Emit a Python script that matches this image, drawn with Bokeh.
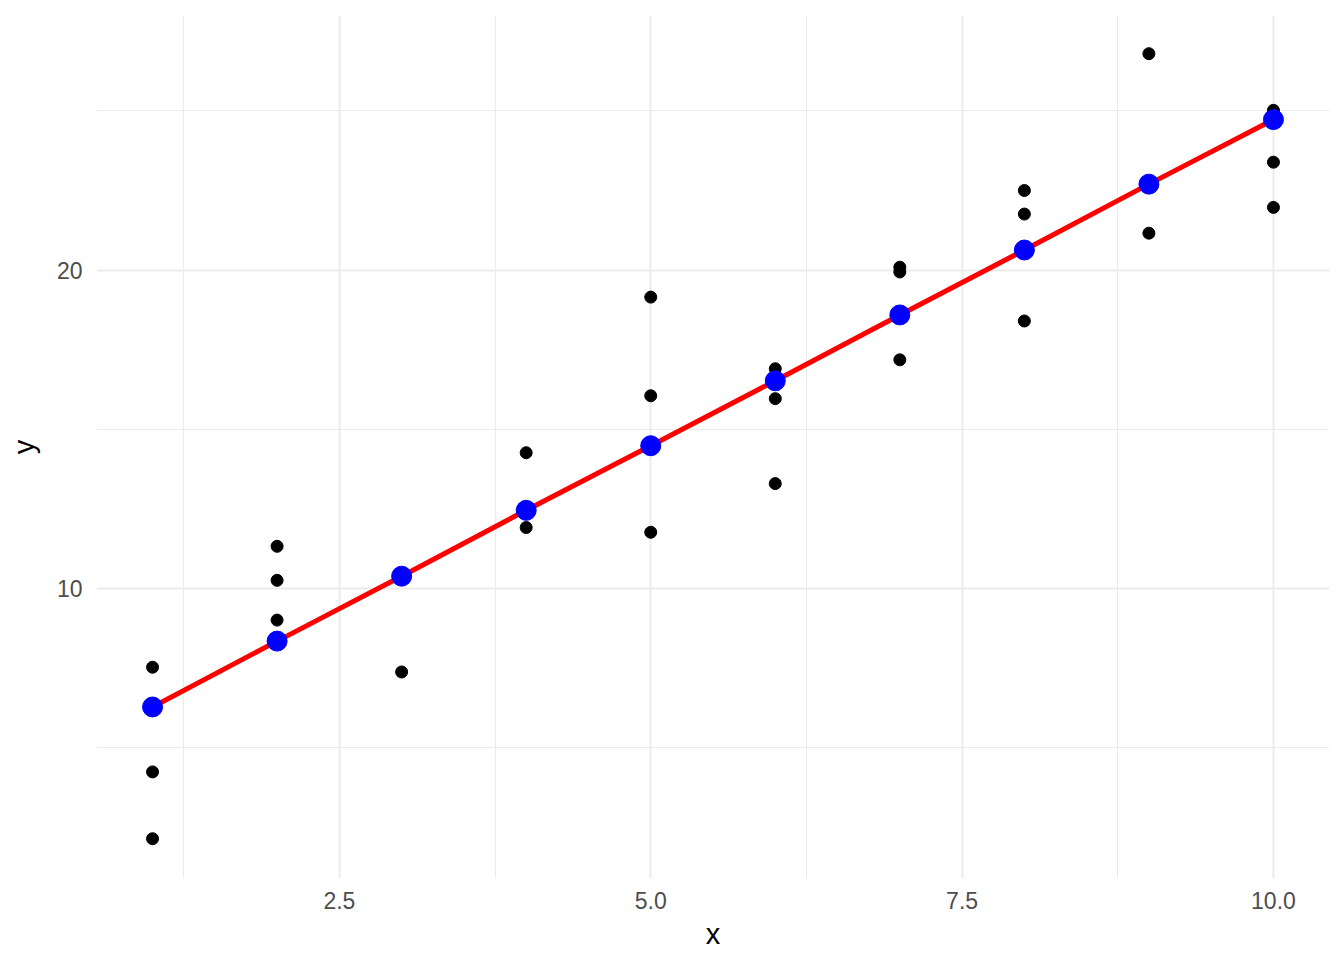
from bokeh.plotting import figure
from bokeh.models import FixedTicker, Range1d, PrintfTickFormatter
from bokeh.embed import file_html
from bokeh.resources import INLINE

# Observed points
x_obs = [1, 1, 1, 2, 2, 2, 3, 4, 4, 5, 5, 5, 6, 6, 6, 7, 7, 7, 8, 8, 8, 9, 9, 10, 10, 10, 10]
y_obs = [7.52, 4.23, 2.13, 11.32, 10.25, 9.0, 7.37, 14.26, 11.91, 19.15, 16.05, 11.76,
         16.9, 15.96, 13.29, 20.09, 19.94, 17.18, 22.5, 21.76, 18.4, 26.8, 21.16,
         25.02, 24.95, 23.39, 21.97]

# Fitted values (blue points / red line)
x_fit = [1, 2, 3, 4, 5, 6, 7, 8, 9, 10]
y_fit = [6.27, 8.34, 10.38, 12.45, 14.48, 16.52, 18.59, 20.63, 22.70, 24.73]

x_ticks = [2.5, 5.0, 7.5, 10.0]
x_minor = [1.25, 3.75, 6.25, 8.75]
y_ticks = [10, 20]
y_minor = [5, 15, 25]

p = figure(width=1336, height=952, output_backend="svg", toolbar_location=None,
           x_range=Range1d(0.55, 10.45), y_range=Range1d(0.88, 28.0),
           min_border_left=96, min_border_right=7, min_border_top=15, min_border_bottom=72)
p.outline_line_color = None
p.background_fill_color = "white"
p.border_fill_color = "white"

p.xaxis.ticker = FixedTicker(ticks=x_ticks, minor_ticks=x_minor)
p.yaxis.ticker = FixedTicker(ticks=y_ticks, minor_ticks=y_minor)
p.xaxis.formatter = PrintfTickFormatter(format="%.1f")
p.yaxis.formatter = PrintfTickFormatter(format="%d")

for ax in (p.xaxis, p.yaxis):
    ax.axis_line_color = None
    ax.major_tick_line_color = None
    ax.minor_tick_line_color = None
    ax.major_tick_out = 0
    ax.minor_tick_out = 0
    ax.major_label_text_font = "Liberation Sans"
    ax.major_label_text_font_size = "23px"
    ax.major_label_text_color = "#4D4D4D"
    ax.axis_label_text_font = "Liberation Sans"
    ax.axis_label_text_font_size = "29px"
    ax.axis_label_text_font_style = "normal"
    ax.axis_label_text_color = "black"

p.xaxis.axis_label = "x"
p.yaxis.axis_label = "y"
p.xaxis.major_label_standoff = 13
p.yaxis.major_label_standoff = 14
p.xaxis.axis_label_standoff = 6
p.yaxis.axis_label_standoff = 14

for g in (p.xgrid, p.ygrid):
    g.grid_line_color = "#EBEBEB"
    g.grid_line_width = 2
    g.minor_grid_line_color = "#EBEBEB"
    g.minor_grid_line_width = 1

p.scatter(x_obs, y_obs, size=12, color="black")
p.line(x_fit, y_fit, line_color="red", line_width=5)
p.scatter(x_fit, y_fit, size=20, color="blue")

open("out.html", "w").write(file_html(p, INLINE))
